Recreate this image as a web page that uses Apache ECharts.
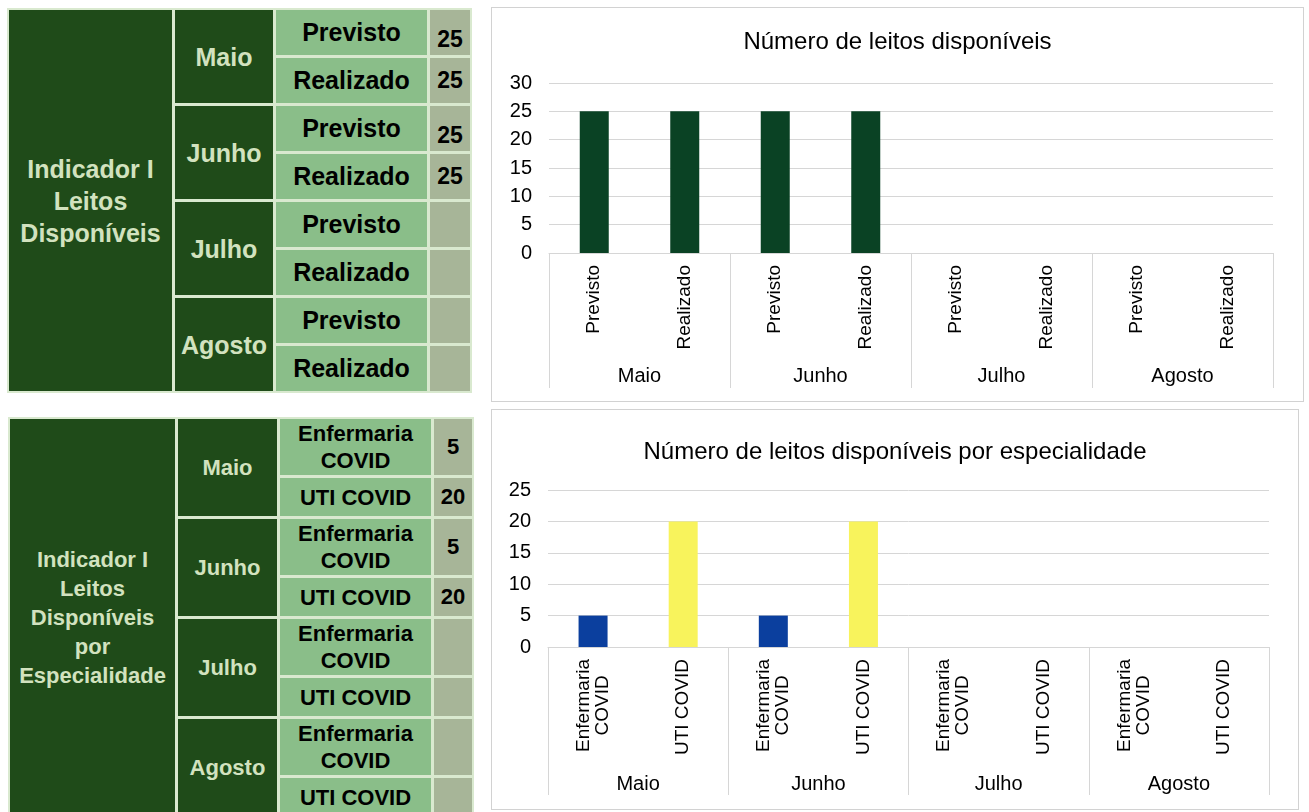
<!DOCTYPE html>
<html>
<head>
<meta charset="utf-8">
<script src="https://cdn.jsdelivr.net/npm/echarts@6/dist/echarts.min.js"></script>
<style>
body{margin:0;width:1309px;height:812px;overflow:hidden;background:#fff;font-family:'Liberation Sans',Arial,sans-serif;position:relative;}
.tab{position:absolute;display:grid;background:#d9e9cf;gap:3px;padding:2px;box-sizing:border-box;}
.tab div{display:flex;align-items:center;justify-content:center;text-align:center;font-weight:bold;box-sizing:border-box;}
.dk{background:#1f4b19;color:#d2e2bf;}
.lt{background:#8abe89;color:#000;}
.vl{background:#a7b598;color:#000;}
#t1{left:7px;top:8px;width:465px;height:385px;grid-template-columns:163px 98px 151px 40px;grid-template-rows:repeat(8,45px);font-size:25px;}
#t1 .dk{font-size:25px;line-height:32px;}
#t1 .vl{font-size:23px;}
#t2{left:8px;top:417px;width:466px;height:401px;grid-template-columns:165px 99px 151px 38px;grid-template-rows:repeat(4,56px 38px);font-size:22px;}
#t2 .dk{font-size:22px;line-height:29px;}
#t2 .lt{line-height:27px;}
.ch{position:absolute;outline:1px solid #d2d2d2;}
#c1{left:492px;top:8px;width:811px;height:393px;}
#c2{left:492px;top:410px;width:806px;height:399px;}
</style>
</head>
<body>
<div class="tab" id="t1"></div>
<div class="tab" id="t2"></div>
<div class="ch" id="c1"></div>
<div class="ch" id="c2"></div>
<script>
// dados
var meses = ['Maio', 'Junho', 'Julho', 'Agosto'];
var tipos = ['Previsto', 'Realizado'];
var leitos = [25, 25, 25, 25, null, null, null, null];
var especialidades = ['Enfermaria\nCOVID', 'UTI COVID'];
var leitosEsp = [5, 20, 5, 20, null, null, null, null];
var yMax1 = 30;
var yMax2 = 25;
var yPasso = 5;

var fonte = "'Liberation Sans', Arial, sans-serif";

// tabelas da esquerda
function montaTabela(id, titulo, subs, valores, desloca) {
	var html = '<div class="dk" style="grid-row:1/span 8;grid-column:1">' + titulo + '</div>';
	meses.forEach(function (m, i) {
		html += '<div class="dk" style="grid-row:' + (i * 2 + 1) + '/span 2;grid-column:2">' + m + '</div>';
		subs.forEach(function (s, j) {
			var r = i * 2 + j + 1;
			var v = valores[i * 2 + j];
			var pad = (desloca && j == 0) ? 'padding-top:14px;' : '';
			html += '<div class="lt" style="grid-row:' + r + ';grid-column:3">' + s.replace('\n', '<br>') + '</div>';
			html += '<div class="vl" style="grid-row:' + r + ';grid-column:4;' + pad + '">' + (v == null ? '' : v) + '</div>';
		});
	});
	document.getElementById(id).innerHTML = html;
}
montaTabela('t1', 'Indicador I<br>Leitos<br>Disponíveis', tipos, leitos, true);
montaTabela('t2', 'Indicador I<br>Leitos<br>Disponíveis<br>por<br>Especialidade', especialidades, leitosEsp, false);

// categorias "mes|tipo" para o eixo de dois niveis
function categorias(subs) {
	var out = [];
	meses.forEach(function (m) {
		subs.forEach(function (s) { out.push(m + '|' + s); });
	});
	return out;
}

function opcao(titulo, tituloTop, subs, valores, yMax, grid, cores, margemMes, tickMes) {
	return {
		animation: false,
		title: {
			text: titulo,
			left: 'center',
			top: tituloTop,
			textStyle: { fontSize: 24, fontWeight: 'normal', color: '#000', fontFamily: fonte }
		},
		grid: grid,
		yAxis: {
			type: 'value',
			min: 0,
			max: yMax,
			interval: yPasso,
			axisLine: { show: false },
			axisTick: { show: false },
			axisLabel: { fontSize: 20, color: '#000', margin: 17, fontFamily: fonte },
			splitLine: { lineStyle: { color: '#d6d6d6' } }
		},
		xAxis: [{
			type: 'category',
			data: categorias(subs),
			position: 'bottom',
			axisLine: { show: true, lineStyle: { color: '#d6d6d6' } },
			axisTick: { show: false },
			axisLabel: {
				rotate: 90,
				interval: 0,
				margin: 12,
				formatter: function (v) {
					return v.split('|')[1].split('\n').map(function (l) { return '{a|' + l + '}'; }).join('\n');
				},
				rich: { a: { fontSize: 19, lineHeight: 19, color: '#000', align: 'center', fontFamily: fonte } }
			}
		}, {
			type: 'category',
			data: meses,
			position: 'bottom',
			axisLine: { show: false },
			axisTick: { show: true, length: tickMes, lineStyle: { color: '#d6d6d6' } },
			axisLabel: { margin: margemMes, fontSize: 20, color: '#000', fontFamily: fonte }
		}],
		series: [{
			type: 'bar',
			xAxisIndex: 0,
			barWidth: 29,
			data: valores,
			itemStyle: {
				color: function (p) { return cores[p.dataIndex % cores.length]; }
			}
		}]
	};
}

var chart1 = echarts.init(document.getElementById('c1'));
chart1.setOption(opcao('Número de leitos disponíveis', 17, tipos, leitos, yMax1,
	{ left: 57, right: 30, top: 75, bottom: 148 }, ['#0a4224'], 113, 135));

var chart2 = echarts.init(document.getElementById('c2'));
chart2.setOption(opcao('Número de leitos disponíveis por especialidade', 25, especialidades, leitosEsp, yMax2,
	{ left: 56, right: 29, top: 80, bottom: 162 }, ['#0b3f9e', '#f8f35c'], 127, 148));
</script>
</body>
</html>
